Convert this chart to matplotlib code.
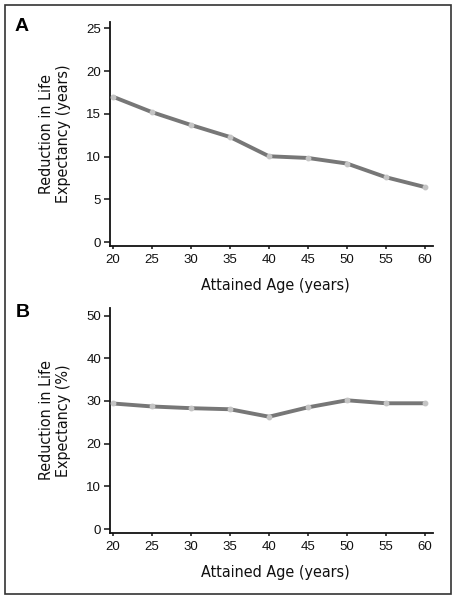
import matplotlib
matplotlib.use('Agg')
import matplotlib.pyplot as plt
from matplotlib.patches import Rectangle

ages = [20, 25, 30, 35, 40, 45, 50, 55, 60]
loss_years = [17.0, 15.2, 13.7, 12.3, 10.05, 9.85, 9.2, 7.6, 6.45]
loss_pct = [29.4, 28.7, 28.3, 28.05, 26.3, 28.5, 30.15, 29.45, 29.45]
yticks_a = [0, 5, 10, 15, 20, 25]
yticks_b = [0, 10, 20, 30, 40, 50]

tick_font = ['Liberation Sans', 'DejaVu Sans']
label_font = ['DejaVu Sans']

fig = plt.figure(figsize=(4.57, 6.0), dpi=100)
fig.patch.set_facecolor('white')


def panel(rect, yvals, yticks, ylim, ylabel):
    ax = fig.add_axes(rect)
    ax.plot(ages, yvals, color='#777777', lw=2.8, solid_capstyle='round',
            marker='o', ms=3.2, mfc='#c4c4c4', mec='#c4c4c4', zorder=3)
    ax.set_xlim(19.6, 61.0)
    ax.set_ylim(*ylim)
    ax.set_xticks(ages)
    ax.set_yticks(yticks)
    for s in ['top', 'right']:
        ax.spines[s].set_visible(False)
    for s in ['left', 'bottom']:
        ax.spines[s].set_linewidth(1.3)
        ax.spines[s].set_color('#111111')
    ax.tick_params(axis='y', length=4, width=1.1, pad=2.5, labelsize=9.5, colors='#111111')
    ax.tick_params(axis='x', length=2.5, width=1.1, pad=3.5, labelsize=9.5, colors='#111111')
    for lab in ax.get_xticklabels() + ax.get_yticklabels():
        lab.set_family(tick_font)
    ax.set_xlabel('Attained Age (years)', family=label_font, stretch='condensed',
                  fontsize=11.5, color='#111111')
    ax.xaxis.set_label_coords(0.514, -0.178)
    ax.xaxis.label.set_verticalalignment('center')
    ax.set_ylabel(ylabel, family=label_font, stretch='condensed', fontsize=11.5,
                  color='#111111', linespacing=1.2, multialignment='center')
    ax.yaxis.set_label_coords(-0.17, 0.5)
    ax.yaxis.label.set_verticalalignment('center')
    return ax


ax_a = panel([0.2407, 0.5905, 0.7061, 0.3733], loss_years, yticks_a, (-0.4, 25.77),
             'Reduction in Life\nExpectancy (years)')
ax_b = panel([0.2407, 0.1122, 0.7061, 0.3740], loss_pct, yticks_b, (-0.86, 51.7),
             'Reduction in Life\nExpectancy (%)')

fig.text(0.0328, 0.9488, 'A', fontsize=14, fontweight='bold', family=tick_font, va='baseline')
fig.text(0.0350, 0.4722, 'B', fontsize=14, fontweight='bold', family=tick_font, va='baseline')

fig.patches.append(Rectangle((0.0103, 0.0095), 0.9759, 0.9822, transform=fig.transFigure,
                             fill=False, lw=1.2, edgecolor='#333333'))

fig.savefig('out.png', dpi=100)
